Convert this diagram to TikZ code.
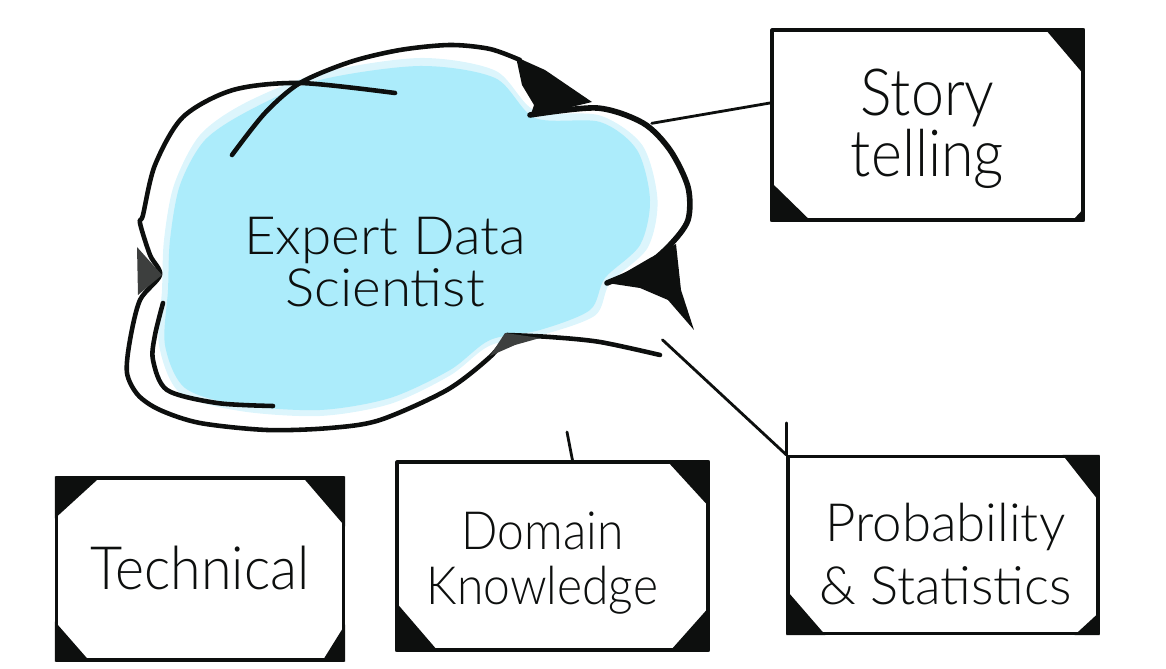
\documentclass[tikz,border=0pt]{standalone}
\usepackage{fontspec}
\IfFontExistsTF{Lato Light}{\setmainfont{Lato Light}}{\setmainfont{Lato}}
\usetikzlibrary{calc,shapes.geometric}
\definecolor{ink}{HTML}{0D0F0E}
\definecolor{sky}{RGB}{172,236,251}
\definecolor{skyhalo}{RGB}{220,245,252}

\begin{document}
\begin{tikzpicture}[line cap=round, line join=round,
    sketch/.style={ink, line width=2.6pt},
    skillbox/.style={draw=ink, line width=1.8pt},
    skilltext/.style={align=center, text=ink},
    link/.style={ink, line width=1.6pt}]
    \useasboundingbox (0,0) rectangle (23.32,13.36);

    % cloud
    \fill[skyhalo] plot[smooth cycle] coordinates {(4.9,11.3) (6.4,11.9) (8.4,12.2) (9.9,11.95) (10.7,11.15) (12.0,11.05) (12.85,10.45) (13.15,9.36) (12.95,8.4) (12.2,7.7) (11.9,7.05) (10.8,6.65) (9.8,6.45) (9.0,5.85) (7.8,5.28) (6.4,5.04) (4.8,5.14) (3.6,5.5) (3.18,6.46) (3.24,7.56) (3.28,8.56) (3.48,9.66) (4.0,10.66)};
    \fill[sky] plot[smooth cycle] coordinates {(5.0,11.16) (6.4,11.76) (8.4,12.04) (9.9,11.8) (10.7,11.0) (12.0,10.92) (12.74,10.36) (13.0,9.36) (12.8,8.46) (12.1,7.8) (11.8,7.16) (10.8,6.76) (9.8,6.56) (9.0,5.96) (7.8,5.4) (6.4,5.16) (4.8,5.26) (3.7,5.6) (3.3,6.46) (3.36,7.56) (3.4,8.56) (3.6,9.66) (4.1,10.56)};
    \draw[sketch] plot[smooth] coordinates {(4.64,10.26) (5.3,11.1) (6.0,11.7) (7.0,12.12) (8.0,12.36) (9.0,12.46) (9.8,12.38) (10.4,12.16)};
    \draw[sketch] plot[smooth] coordinates {(7.9,11.5) (6.0,11.7) (4.66,11.56) (3.66,11.02) (3.1,10.06) (2.86,9.06) (2.8,8.9) (3.0,8.26) (3.2,7.86) (2.8,7.36) (2.6,6.56) (2.54,5.9) (2.76,5.46) (3.2,5.16) (4.0,4.9) (5.34,4.76) (6.6,4.8) (7.6,4.96) (8.94,5.56) (9.8,6.22) (10.14,6.64)};
    \draw[sketch] plot[smooth] coordinates {(3.26,7.3) (3.1,6.66) (3.06,6.16) (3.34,5.56) (4.34,5.3) (5.46,5.24)};
    \draw[sketch, line width=3.2pt] plot[smooth] coordinates {(10.6,11.06) (11.94,11.2) (12.86,10.9) (13.4,10.36) (13.76,9.62) (13.76,8.96) (13.4,8.46) (12.9,8.04) (12.14,7.7)};
    \draw[sketch] plot[smooth] coordinates {(10.14,6.66) (11.0,6.62) (12.0,6.52) (13.2,6.26)};
    \fill[ink] (10.32,12.22) -- (10.9,11.96) -- (11.84,11.32) -- (10.6,11.02) -- (10.68,11.26) -- (10.44,11.66) -- cycle;
    \fill[ink] (12.14,7.7) -- (13.0,8.2) -- (13.52,8.48) -- (13.62,7.56) -- (13.88,6.76) -- (13.36,7.36) -- (12.8,7.6) -- cycle;
    \fill[ink!80] (2.74,8.42) -- (3.24,7.86) -- (2.76,7.46) -- cycle;
    \fill[ink!80] (9.8,6.24) -- (10.1,6.7) -- (10.8,6.6) -- (10.3,6.46) -- cycle;
    \node[ellipse, minimum width=11.9cm, minimum height=7.9cm] (cloud) at (8.16,8.62) {};
    \node[skilltext, font=\fontsize{30}{30}\selectfont\addfontfeatures{FakeStretch=1.04}] (cloud-text) at (7.7,8.12) {Expert Data\\Scientist};

    % skill boxes
    \node[skillbox, minimum width=6.22cm, minimum height=3.8cm] (story) at (18.55,10.86) {};
    \node[skillbox, minimum width=5.74cm, minimum height=3.64cm] (technical) at (4.0,1.98) {};
    \node[skillbox, minimum width=6.22cm, minimum height=3.76cm] (domain) at (11.05,2.24) {};
    \node[skillbox, minimum width=6.2cm, minimum height=3.54cm] (prob) at (18.86,2.46) {};
    \node[skilltext, font=\fontsize{37}{35}\selectfont\addfontfeatures{FakeStretch=0.91}] (story-text) at ([yshift=-0.08cm]story.center) {Story\\telling};
    \node[skilltext, font=\fontsize{34}{36}\selectfont\addfontfeatures{FakeStretch=0.93}] (technical-text) at ([yshift=0.02cm]technical.center) {Technical};
    \node[skilltext, font=\fontsize{30}{31}\selectfont\addfontfeatures{FakeStretch=0.91}] (domain-text) at ([shift={(-0.2,-0.14)}]domain.center) {Domain\\Knowledge};
    \node[skilltext, font=\fontsize{30}{36}\selectfont] (prob-text) at ([shift={(0.05,-0.18)}]prob.center) {Probability\\\& Statistics};

    % dark corners
    \fill[ink] (story.north east) -- ++(-0.8,0) -- ++(0.8,-0.94) -- cycle;
    \fill[ink] (story.south west) -- ++(0,0.8) -- ++(0.82,-0.8) -- cycle;
    \fill[ink] (story.south east) -- ++(0,0.28) -- ++(-0.26,-0.28) -- cycle;
    \fill[ink] (technical.north west) -- ++(0.92,0) -- ++(-0.92,-0.84) -- cycle;
    \fill[ink] (technical.north east) -- ++(-0.86,0) -- ++(0.86,-1.0) -- cycle;
    \fill[ink] (technical.south west) -- ++(0,0.8) -- ++(0.7,-0.8) -- cycle;
    \fill[ink] (technical.south east) -- ++(0,0.74) -- ++(-0.46,-0.74) -- cycle;
    \fill[ink] (domain.north east) -- ++(-0.86,0) -- ++(0.86,-0.94) -- cycle;
    \fill[ink] (domain.south west) -- ++(0,1.0) -- ++(0.86,-1.0) -- cycle;
    \fill[ink] (domain.south east) -- ++(0,0.9) -- ++(-0.8,-0.9) -- cycle;
    \fill[ink] (prob.north east) -- ++(-0.74,0) -- ++(0.74,-0.94) -- cycle;
    \fill[ink] (prob.south west) -- ++(0,0.9) -- ++(0.78,-0.9) -- cycle;
    \fill[ink] (prob.south east) -- ++(0,0.46) -- ++(-0.5,-0.46) -- cycle;

    % links
    \draw[link] (cloud.25) -- (story.172);
    \draw[link] (cloud.-22) -- (prob.north west);
    \draw[link] (prob.north west) -- ++(0,0.64);
    \coordinate (tick) at (11.34,4.72);
    \draw[link] (tick) -- ([xshift=0.4cm]domain.north);
\end{tikzpicture}
\end{document}
